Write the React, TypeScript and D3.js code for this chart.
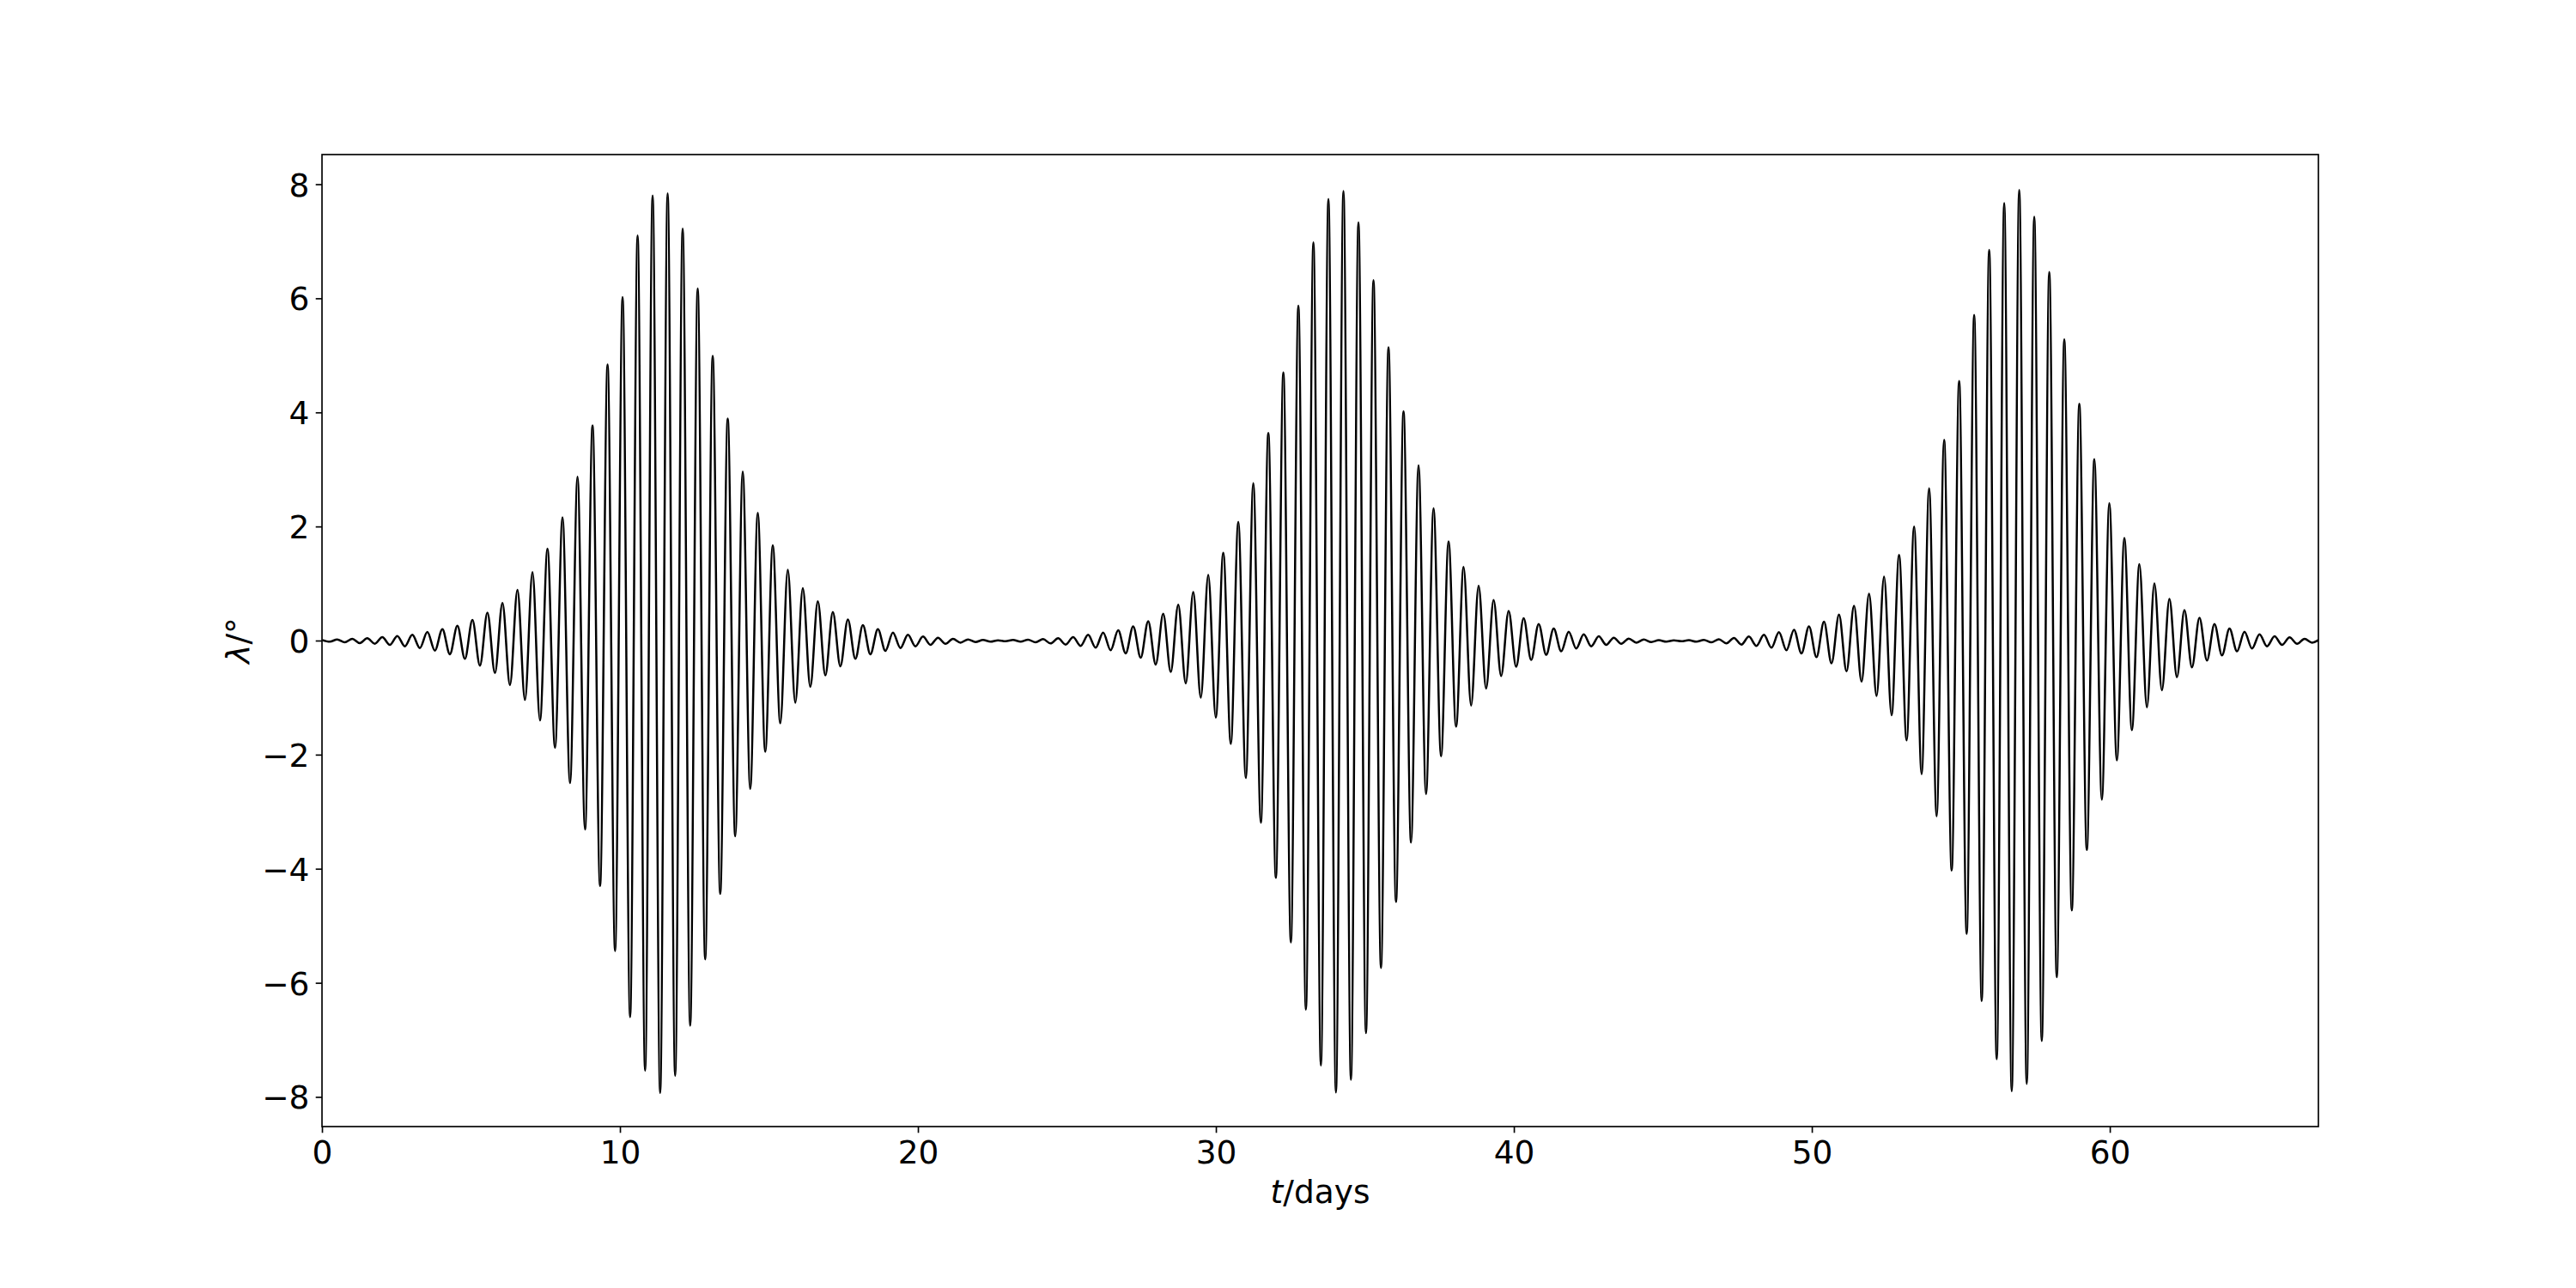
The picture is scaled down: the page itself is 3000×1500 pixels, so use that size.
import React, { useEffect, useRef } from 'react';
import * as d3 from 'd3';

// Libration angle extrema: one peak and one trough per cycle.
// The carrier is evenly sampled, so only the first peak time and the half cycle are stored.
const firstPeakTime = 0.008; // days
const halfCycle = 0.252; // days from a peak to the following trough

const peakValues = [
  0.01, 0.02, 0.03, 0.04, 0.06, 0.08, 0.10, 0.15, 0.20, 0.26, 0.36, 0.49, 0.66, 0.89, 1.20, 1.61,
  2.16, 2.87, 3.77, 4.84, 6.02, 7.10, 7.80, 7.84, 7.22, 6.17, 4.99, 3.89, 2.96, 2.24, 1.67, 1.24,
  0.92, 0.69, 0.50, 0.37, 0.27, 0.20, 0.14, 0.10, 0.07, 0.05, 0.03, 0.02, 0.01, 0.005, 0.01, 0.015,
  0.025, 0.04, 0.06, 0.10, 0.14, 0.18, 0.25, 0.34, 0.47, 0.63, 0.85, 1.15, 1.54, 2.08, 2.76, 3.64,
  4.70, 5.87, 6.98, 7.74, 7.88, 7.33, 6.32, 5.14, 4.02, 3.07, 2.32, 1.74, 1.29, 0.96, 0.71, 0.52,
  0.39, 0.29, 0.21, 0.155, 0.11, 0.075, 0.05, 0.035, 0.017, 0.006, 0.003, 0.006, 0.012, 0.023, 0.046, 0.07,
  0.10, 0.145, 0.19, 0.25, 0.33, 0.455, 0.61, 0.82, 1.12, 1.50, 2.00, 2.67, 3.52, 4.55, 5.71, 6.85,
  7.67, 7.90, 7.43, 6.46, 5.28, 4.15, 3.18, 2.41, 1.80, 1.34, 1.00, 0.73, 0.535, 0.40, 0.29, 0.21,
  0.155, 0.11, 0.075, 0.058, 0.03, 0.02,
];

const troughValues = [
  -0.02, -0.03, -0.045, -0.056, -0.075, -0.10, -0.13, -0.175, -0.24, -0.32, -0.44, -0.57, -0.78, -1.04, -1.40, -1.88,
  -2.50, -3.31, -4.30, -5.44, -6.60, -7.54, -7.93, -7.63, -6.75, -5.59, -4.44, -3.43, -2.60, -1.95, -1.45, -1.09,
  -0.81, -0.61, -0.45, -0.32, -0.24, -0.18, -0.13, -0.10, -0.075, -0.056, -0.037, -0.025, -0.019, -0.012, -0.019, -0.03,
  -0.05, -0.07, -0.094, -0.125, -0.17, -0.225, -0.30, -0.42, -0.55, -0.75, -1.00, -1.35, -1.81, -2.41, -3.19, -4.16,
  -5.29, -6.47, -7.45, -7.92, -7.70, -6.88, -5.74, -4.58, -3.54, -2.69, -2.03, -1.51, -1.14, -0.84, -0.62, -0.46,
  -0.34, -0.25, -0.19, -0.14, -0.10, -0.075, -0.056, -0.037, -0.025, -0.019, -0.012, -0.019, -0.03, -0.05, -0.07, -0.094,
  -0.125, -0.17, -0.225, -0.29, -0.40, -0.54, -0.72, -0.97, -1.31, -1.75, -2.34, -3.08, -4.03, -5.14, -6.32, -7.34,
  -7.90, -7.77, -7.02, -5.90, -4.73, -3.67, -2.79, -2.10, -1.57, -1.17, -0.87, -0.64, -0.47, -0.35, -0.26, -0.19,
  -0.14, -0.10, -0.075, -0.056, -0.037,
];

const xTicks = [0, 10, 20, 30, 40, 50, 60];
const yTicks = [-8, -6, -4, -2, 0, 2, 4, 6, 8];
const xDomain: [number, number] = [0, 67];
const yDomain: [number, number] = [-8.52, 8.52];

const App: React.FC = () => {
  const svgRef = useRef<SVGSVGElement>(null);

  useEffect(() => {
    if (!svgRef.current) return;

    const svg = d3.select(svgRef.current);
    svg.selectAll('*').remove();

    const width = 3000;
    const height = 1500;
    const margin = { top: 180, right: 300, bottom: 188, left: 375 };
    const innerW = width - margin.left - margin.right;
    const innerH = height - margin.top - margin.bottom;
    const fontSize = 37.5;
    const tickLen = 7.3;

    svg.attr('width', width).attr('height', height).attr('viewBox', `0 0 ${width} ${height}`);

    const x = d3.scaleLinear().domain(xDomain).range([0, innerW]);
    const y = d3.scaleLinear().domain(yDomain).range([innerH, 0]);

    // alternate peaks and troughs along time
    const points: [number, number][] = [];
    peakValues.forEach((p, i) => {
      points.push([firstPeakTime + 2 * i * halfCycle, p]);
      if (i < troughValues.length) {
        points.push([firstPeakTime + (2 * i + 1) * halfCycle, troughValues[i]]);
      }
    });

    const g = svg.append('g').attr('transform', `translate(${margin.left},${margin.top})`);

    svg.append('defs')
      .append('clipPath')
      .attr('id', 'plot-clip')
      .append('rect')
      .attr('width', innerW)
      .attr('height', innerH);

    const line = d3.line<[number, number]>()
      .x(d => x(d[0]))
      .y(d => y(d[1]))
      .curve(d3.curveMonotoneX);

    g.append('path')
      .datum(points)
      .attr('clip-path', 'url(#plot-clip)')
      .attr('fill', 'none')
      .attr('stroke', '#000')
      .attr('stroke-width', 2.5)
      .attr('stroke-linejoin', 'round')
      .attr('d', line);

    // x axis
    const xAxis = g.append('g')
      .attr('transform', `translate(0,${innerH})`)
      .call(d3.axisBottom(x).tickValues(xTicks).tickFormat(d3.format('d')).tickSize(tickLen).tickPadding(tickLen));
    xAxis.select('.domain').remove();
    xAxis.selectAll('line').attr('stroke', '#000').attr('stroke-width', 1.67);
    xAxis.selectAll('text')
      .attr('dy', '0.76em')
      .attr('fill', '#000')
      .style('font-family', '"DejaVu Sans"')
      .style('font-size', `${fontSize}px`);

    // y axis
    const yAxis = g.append('g')
      .call(d3.axisLeft(y).tickValues(yTicks).tickFormat(d3.format('d')).tickSize(tickLen).tickPadding(tickLen));
    yAxis.select('.domain').remove();
    yAxis.selectAll('line').attr('stroke', '#000').attr('stroke-width', 1.67);
    yAxis.selectAll('text')
      .attr('dy', '0.36em')
      .attr('fill', '#000')
      .style('font-family', '"DejaVu Sans"')
      .style('font-size', `${fontSize}px`);

    // spines
    g.append('rect')
      .attr('width', innerW)
      .attr('height', innerH)
      .attr('fill', 'none')
      .attr('stroke', '#000')
      .attr('stroke-width', 1.67);

    // axis labels
    const xLabel = svg.append('text')
      .attr('x', margin.left + innerW / 2)
      .attr('y', 1401)
      .attr('text-anchor', 'middle')
      .style('font-family', '"DejaVu Sans"')
      .style('font-size', `${fontSize}px`);
    xLabel.append('tspan').style('font-style', 'italic').text('t');
    xLabel.append('tspan').text('/days');

    const yLabel = svg.append('text')
      .attr('transform', `translate(290,${margin.top + innerH / 2}) rotate(-90)`)
      .attr('text-anchor', 'middle')
      .style('font-family', '"DejaVu Sans"')
      .style('font-size', `${fontSize}px`);
    yLabel.append('tspan').style('font-style', 'italic').text('λ');
    yLabel.append('tspan').text('/°');
  }, []);

  return (
    <svg
      ref={svgRef}
      style={{ position: 'absolute', left: 0, top: 0, background: '#fff', display: 'block' }}
    />
  );
};

export default App;
